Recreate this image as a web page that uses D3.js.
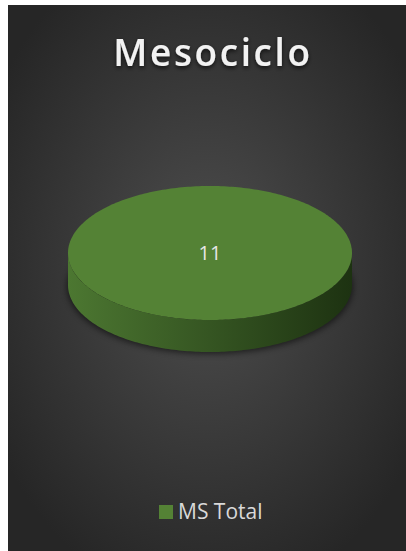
<!DOCTYPE html>
<html>
<head>
<meta charset="utf-8">
<script src="https://cdn.jsdelivr.net/npm/d3@7"></script>
<style>
  html, body { margin: 0; padding: 0; background: #ffffff; }
  svg { display: block; }
</style>
</head>
<body>
<svg id="chart" width="406" height="551"></svg>
<script>
// datos del grafico
var categories = ["MS Total"];
var values = [11];
var title = "Mesociclo";

var W = 406, H = 551;
var svg = d3.select('#chart');
var defs = svg.append('defs');

// fondo con degradado radial
var bg = defs.append('radialGradient').attr('id', 'bg')
    .attr('cx', '50%').attr('cy', '48%').attr('r', '62%');
bg.append('stop').attr('offset', '0%').attr('stop-color', '#4e4e4e');
bg.append('stop').attr('offset', '100%').attr('stop-color', '#262626');

// pared lateral: mas claro a la izquierda, oscuro a la derecha
var side = defs.append('linearGradient').attr('id', 'side')
    .attr('x1', '0%').attr('x2', '100%').attr('y1', '0%').attr('y2', '0%');
side.append('stop').attr('offset', '0%').attr('stop-color', '#4c7731');
side.append('stop').attr('offset', '50%').attr('stop-color', '#355522');
side.append('stop').attr('offset', '100%').attr('stop-color', '#1d3211');

var blur = defs.append('filter').attr('id', 'blur')
    .attr('x', '-20%').attr('y', '-20%').attr('width', '140%').attr('height', '140%');
blur.append('feGaussianBlur').attr('stdDeviation', 3);

var tshadow = defs.append('filter').attr('id', 'tshadow')
    .attr('x', '-10%').attr('y', '-30%').attr('width', '120%').attr('height', '160%');
tshadow.append('feDropShadow').attr('dx', 0).attr('dy', 2).attr('stdDeviation', 2)
    .attr('flood-color', '#000').attr('flood-opacity', 0.7);

var padL = 8, padT = 5;
svg.append('rect').attr('x', padL).attr('y', padT)
    .attr('width', W - padL).attr('height', H - padT)
    .attr('fill', 'url(#bg)');

// titulo
svg.append('text')
    .attr('x', 213).attr('y', 66)
    .attr('text-anchor', 'middle')
    .attr('font-family', 'Open Sans')
    .attr('font-weight', 600)
    .attr('font-size', 37)
    .attr('letter-spacing', 2.6)
    .attr('fill', '#f2f2f2')
    .attr('filter', 'url(#tshadow)')
    .text(title);

// pastel 3d
var cx = 210, cy = 253, rx = 142, ry = 67, depth = 32;
var color = d3.scaleOrdinal().domain(categories).range(['#548235']);
var pie = d3.pie().sort(null).value(function(d) { return d.value; });
var table = categories.map(function(c, i) { return {name: c, value: values[i]}; });
var slices = pie(table);

function pt(a, dy) {
    return [cx + rx * Math.sin(a), cy - ry * Math.cos(a) + (dy || 0)];
}
function arcPts(a0, a1, dy) {
    var n = Math.max(2, Math.ceil((a1 - a0) / 0.02));
    return d3.range(n + 1).map(function(i) { return pt(a0 + (a1 - a0) * i / n, dy); });
}
var line = d3.line();

var g = svg.append('g');

// sombra bajo el disco
g.append('ellipse')
    .attr('cx', cx).attr('cy', cy + depth + 2)
    .attr('rx', rx + 1).attr('ry', ry)
    .attr('fill', '#000').attr('opacity', 0.55)
    .attr('filter', 'url(#blur)');

// paredes frontales (angulos entre pi/2 y 3pi/2)
slices.forEach(function(s) {
    var a0 = Math.max(s.startAngle, Math.PI / 2);
    var a1 = Math.min(s.endAngle, 3 * Math.PI / 2);
    if (a1 <= a0) return;
    var topPts = arcPts(a0, a1, 0);
    var botPts = arcPts(a0, a1, depth).reverse();
    g.append('path')
        .attr('d', line(topPts.concat(botPts)) + 'Z')
        .attr('fill', 'url(#side)');
});

// caras superiores
slices.forEach(function(s) {
    var pts = arcPts(s.startAngle, s.endAngle, 0);
    var full = (s.endAngle - s.startAngle) >= 2 * Math.PI - 1e-6;
    g.append('path')
        .attr('d', full ? line(pts) + 'Z' : line([[cx, cy]].concat(pts)) + 'Z')
        .attr('fill', color(s.data.name));
});

// etiquetas de datos
slices.forEach(function(s) {
    var full = (s.endAngle - s.startAngle) >= 2 * Math.PI - 1e-6;
    var mid = (s.startAngle + s.endAngle) / 2;
    var p = full ? [cx, cy] : [cx + rx * 0.6 * Math.sin(mid), cy - ry * 0.6 * Math.cos(mid)];
    g.append('text')
        .attr('x', p[0]).attr('y', p[1] + 7)
        .attr('text-anchor', 'middle')
        .attr('font-family', 'Open Sans')
        .attr('font-size', 20)
        .attr('fill', '#e6e6e6')
        .text(s.data.value);
});

// leyenda
var legend = svg.append('g').attr('transform', 'translate(159,505)');
var items = legend.selectAll('g').data(categories).enter().append('g');
items.append('rect').attr('width', 14).attr('height', 14)
    .attr('fill', function(d) { return color(d); });
items.append('text')
    .attr('x', 19).attr('y', 14)
    .attr('font-family', 'Open Sans')
    .attr('font-size', 21)
    .attr('fill', '#d9d9d9')
    .text(function(d) { return d; });
</script>
</body>
</html>
